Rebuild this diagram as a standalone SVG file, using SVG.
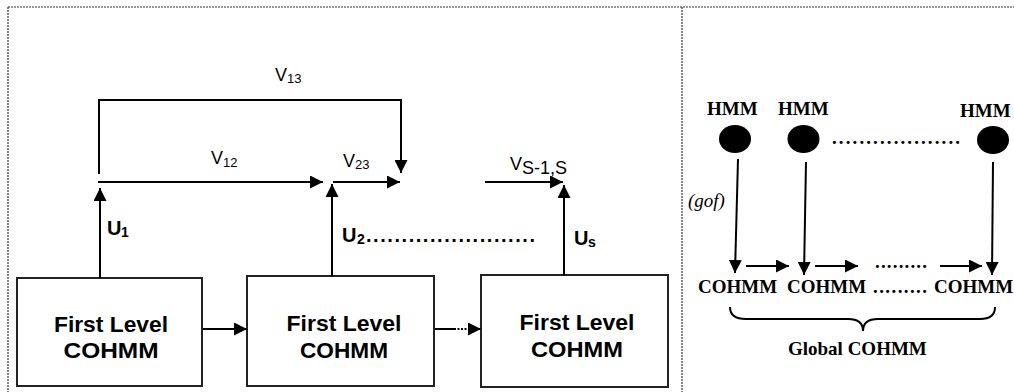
<svg xmlns="http://www.w3.org/2000/svg" width="1014" height="392" viewBox="0 0 1014 392">
<style>
.bd{stroke:#333;stroke-width:1.2;stroke-dasharray:2,1;fill:none}
.ln{stroke:#000;stroke-width:2;fill:none}
.box{stroke:#222;stroke-width:2;fill:#fff}
.bx{font-family:"Liberation Sans",Arial,sans-serif;font-weight:bold;font-size:22px;fill:#000;text-anchor:middle}
.lb{font-family:"Liberation Sans",Arial,sans-serif;font-size:18px;fill:#000}
.sb{font-family:"Liberation Sans",Arial,sans-serif;font-size:13px;fill:#000}
.ub{font-family:"Liberation Sans",Arial,sans-serif;font-weight:bold;font-size:20px;fill:#000}
.us{font-family:"Liberation Sans",Arial,sans-serif;font-weight:bold;font-size:14px;fill:#000}
.tm{font-family:"Liberation Serif","Times New Roman",serif;font-weight:bold;font-size:19px;fill:#000}
.ti{font-family:"Liberation Serif","Times New Roman",serif;font-style:italic;font-size:19px;fill:#000}
</style>
<defs>
<marker id="ah" markerUnits="userSpaceOnUse" markerWidth="14" markerHeight="13" refX="13" refY="6.5" orient="auto">
<path d="M0,0 L13,6.5 L0,13 z" fill="#000"/>
</marker>
</defs>
<g id="border">
<line class="bd" x1="8" y1="7" x2="1014" y2="7"/>
<line class="bd" x1="8" y1="7" x2="8" y2="392"/>
<line class="bd" x1="682" y1="7" x2="682" y2="392"/>
</g>
<g id="box1">
<rect class="box" x="17" y="278" width="185" height="108"/>
<text class="bx" x="111" y="332" textLength="114" lengthAdjust="spacingAndGlyphs">First Level</text>
<text class="bx" x="111" y="358" textLength="95" lengthAdjust="spacingAndGlyphs">COHMM</text>
</g>
<g id="box2">
<rect class="box" x="247" y="276" width="187" height="110"/>
<text class="bx" x="344" y="331" textLength="115" lengthAdjust="spacingAndGlyphs">First Level</text>
<text class="bx" x="344" y="358" textLength="88" lengthAdjust="spacingAndGlyphs">COHMM</text>
</g>
<g id="box3">
<rect class="box" x="481" y="275" width="187" height="112"/>
<text class="bx" x="577" y="330" textLength="115" lengthAdjust="spacingAndGlyphs">First Level</text>
<text class="bx" x="577" y="357" textLength="92" lengthAdjust="spacingAndGlyphs">COHMM</text>
</g>
<g id="hmm1">
<text class="tm" x="707" y="115" font-size="20">HMM</text>
<ellipse cx="735" cy="139" rx="16" ry="14" fill="#000"/>
</g>
<g id="hmm2">
<text class="tm" x="778" y="115" font-size="20">HMM</text>
<ellipse cx="803.5" cy="139" rx="16" ry="14" fill="#000"/>
</g>
<g id="hmm3">
<text class="tm" x="960" y="117" font-size="18">HMM</text>
<ellipse cx="993" cy="140" rx="16" ry="14" fill="#000"/>
</g>
<g id="cohmm1"><text class="tm" x="698" y="293">COHMM</text></g>
<g id="cohmm2"><text class="tm" x="787" y="293">COHMM</text></g>
<g id="cohmm3"><text class="tm" x="934" y="293" font-size="17">COHMM</text></g>
<g id="global">
<path class="ln" d="M730,307 Q730,319 746,319 L848,319 Q863,319 863,331 Q863,319 878,319 L980,319 Q995,319 995,307"/>
<text class="tm" x="788" y="355">Global COHMM</text>
</g>
<g id="connectors">
<path class="ln" d="M99,174 L99,100 L401,100 L401,173" marker-end="url(#ah)"/>
<line class="ln" x1="98" y1="182" x2="323" y2="182" marker-end="url(#ah)"/>
<line class="ln" x1="333" y1="182" x2="400" y2="182" marker-end="url(#ah)"/>
<line class="ln" x1="485" y1="182" x2="563" y2="182" marker-end="url(#ah)"/>
<line class="ln" x1="100" y1="278" x2="100" y2="188" marker-end="url(#ah)"/>
<line class="ln" x1="332" y1="276" x2="332" y2="184" marker-end="url(#ah)"/>
<line class="ln" x1="564" y1="275" x2="564" y2="185" marker-end="url(#ah)"/>
<line class="ln" x1="203" y1="329" x2="247" y2="329" marker-end="url(#ah)"/>
<line class="ln" x1="435" y1="329" x2="454" y2="329"/>
<line class="ln" x1="454" y1="329" x2="481" y2="329" stroke-dasharray="2,1.5" marker-end="url(#ah)"/>
<line class="ln" x1="738" y1="159" x2="735" y2="273" marker-end="url(#ah)"/>
<line class="ln" x1="806" y1="162" x2="804" y2="275" marker-end="url(#ah)"/>
<line class="ln" x1="993" y1="162" x2="992" y2="275" marker-end="url(#ah)"/>
<line class="ln" x1="746" y1="266" x2="789" y2="266" marker-end="url(#ah)"/>
<line class="ln" x1="815" y1="266" x2="858" y2="266" marker-end="url(#ah)"/>
<line class="ln" x1="940" y1="266" x2="982" y2="266" marker-end="url(#ah)"/>
</g>
<g id="labels">
<text class="lb" x="275" y="81">V</text><text class="sb" x="287" y="83">13</text>
<text class="lb" x="211" y="164">V</text><text class="sb" x="223" y="167">12</text>
<text class="lb" x="343" y="167">V</text><text class="sb" x="355" y="169">23</text>
<text class="lb" x="510" y="170" font-size="17">V</text><text class="lb" x="522" y="174" font-size="16">S-1,S</text>
<text class="ub" x="107" y="235">U</text><text class="us" x="121" y="237">1</text>
<text class="ub" x="342" y="242">U</text><text class="us" x="357" y="244">2</text>
<text class="ub" x="366" y="242" textLength="169" lengthAdjust="spacing">........................</text>
<text class="ub" x="574" y="245">U</text><text class="us" x="588" y="247">s</text>
<text class="tm" x="832" y="144" textLength="128" lengthAdjust="spacing">...................</text>
<text class="tm" x="875" y="268" textLength="52" lengthAdjust="spacing">.........</text>
<text class="tm" x="873" y="293" textLength="54" lengthAdjust="spacing">.........</text>
<text class="ti" x="688" y="207">(gof)</text>
</g>
</svg>
